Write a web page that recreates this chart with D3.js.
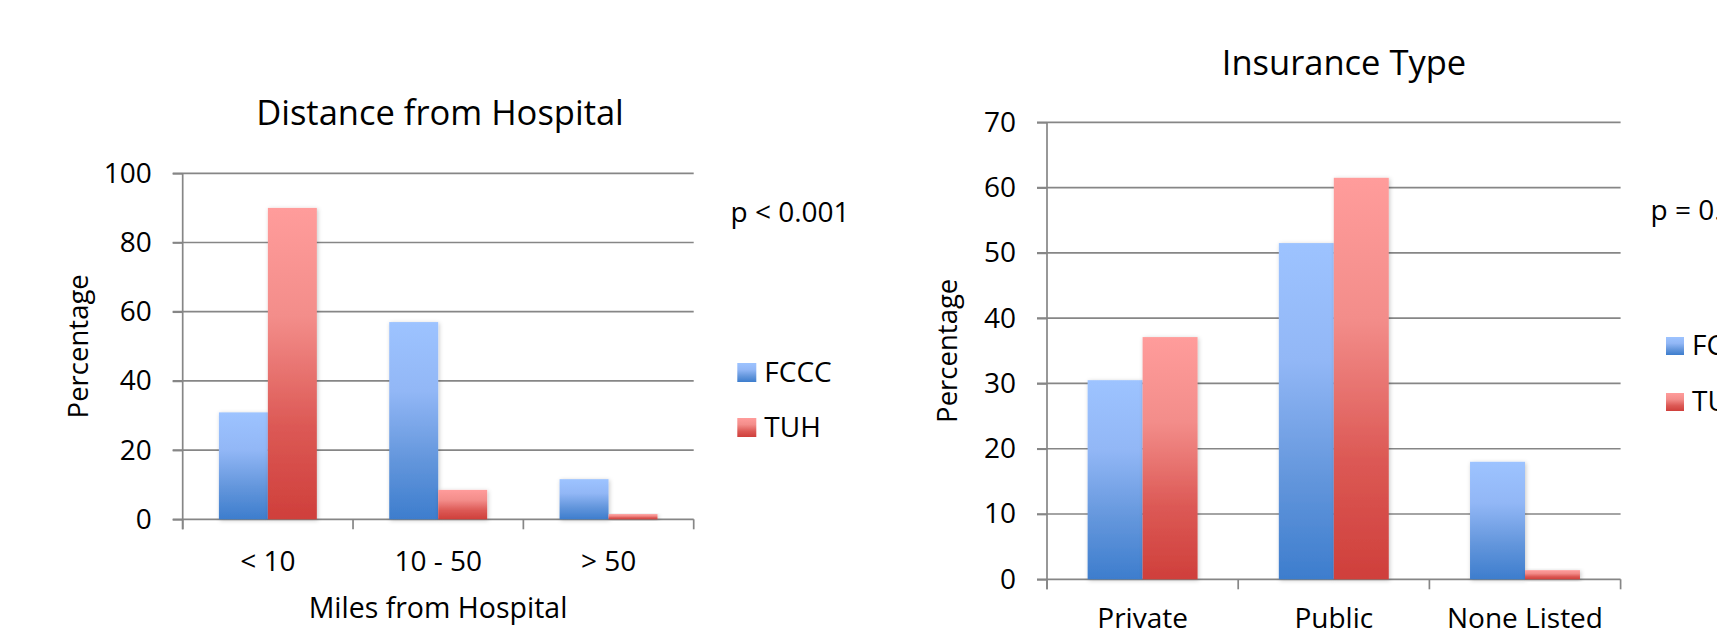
<!DOCTYPE html>
<html>
<head>
<meta charset="utf-8">
<script src="https://cdn.jsdelivr.net/npm/d3@7"></script>
<style>
  html, body { margin: 0; padding: 0; background: #fff; overflow: hidden; }
  svg { display: block; }
  text { font-family: "Open Sans", "Noto Sans", sans-serif; fill: #000; }
</style>
</head>
<body>
<svg id="chart" width="1717" height="629"></svg>
<script>
// ---- data ----
const seriesNames = ["FCCC", "TUH"];

const distanceCategories = ["< 10", "10 - 50", "> 50"];
const distanceFCCC = [30.9, 57.0, 11.6];
const distanceTUH = [90.0, 8.5, 1.5];
const distanceTicks = [0, 20, 40, 60, 80, 100];

const insuranceCategories = ["Private", "Public", "None Listed"];
const insuranceFCCC = [30.5, 51.5, 18.0];
const insuranceTUH = [37.1, 61.5, 1.4];
const insuranceTicks = [0, 10, 20, 30, 40, 50, 60, 70];

const svg = d3.select("#chart");
const defs = svg.append("defs");

// vertical gradients for the two series
const gradStops = {
  FCCC: [[0, "#9dc3ff"], [0.35, "#92b7f6"], [0.7, "#6396dc"], [1, "#3d7dcd"]],
  TUH:  [[0, "#ff9c9b"], [0.35, "#f38d8a"], [0.7, "#dc5955"], [1, "#cf3f3b"]]
};
Object.entries(gradStops).forEach(([name, stops]) => {
  const g = defs.append("linearGradient")
    .attr("id", "grad-" + name)
    .attr("x1", 0).attr("y1", 0).attr("x2", 0).attr("y2", 1);
  stops.forEach(([o, c]) => g.append("stop").attr("offset", o).attr("stop-color", c));
});

const shadow = defs.append("filter").attr("id", "barShadow")
  .attr("x", "-20%").attr("y", "-20%").attr("width", "140%").attr("height", "140%");
shadow.append("feDropShadow")
  .attr("dx", 1).attr("dy", 1).attr("stdDeviation", 2)
  .attr("flood-color", "#000").attr("flood-opacity", 0.22);

const gridColor = "#868686";
const labelSize = 28;

function drawChart(cfg) {
  const g = svg.append("g");
  const { left, right, top, bottom } = cfg.plot;

  const y = d3.scaleLinear().domain([0, cfg.max]).range([bottom, top]);
  const x = d3.scaleBand().domain(cfg.categories).range([left, right])
    .paddingInner(0.425).paddingOuter(0.2125);
  const xs = d3.scaleBand().domain(seriesNames).range([0, x.bandwidth()]);

  // horizontal gridlines (extending through the y ticks)
  g.append("g").selectAll("line").data(cfg.ticks).join("line")
    .attr("x1", left - 10).attr("x2", right)
    .attr("y1", d => y(d)).attr("y2", d => y(d))
    .attr("stroke", gridColor).attr("stroke-width", 1.7);

  // y axis with labels
  const yAxis = g.append("g")
    .attr("transform", `translate(${left},0)`)
    .call(d3.axisLeft(y).tickValues(cfg.ticks).tickSize(10).tickPadding(21));
  yAxis.select(".domain").remove();
  yAxis.selectAll(".tick line").attr("stroke", gridColor).attr("stroke-width", 1.7);
  yAxis.selectAll(".tick text")
    .style("font-family", '"Open Sans", sans-serif')
    .attr("font-size", labelSize).attr("fill", "#000");

  g.append("line")
    .attr("x1", left).attr("x2", left)
    .attr("y1", top).attr("y2", bottom + 10)
    .attr("stroke", gridColor).attr("stroke-width", 1.7);

  // category boundary ticks
  const step = x.step();
  const bounds = d3.range(cfg.categories.length + 1).map(i => left + i * step);
  g.append("g").selectAll("line").data(bounds).join("line")
    .attr("x1", d => d).attr("x2", d => d)
    .attr("y1", bottom).attr("y2", bottom + 10)
    .attr("stroke", gridColor).attr("stroke-width", 1.7);

  // bars
  const rows = cfg.categories.map((c, i) => ({
    cat: c,
    vals: [{ s: "FCCC", v: cfg.fccc[i] }, { s: "TUH", v: cfg.tuh[i] }]
  }));
  g.append("g").selectAll("g").data(rows).join("g")
    .attr("transform", d => `translate(${x(d.cat)},0)`)
    .selectAll("rect").data(d => d.vals).join("rect")
    .attr("x", d => xs(d.s))
    .attr("width", xs.bandwidth())
    .attr("y", d => y(d.v))
    .attr("height", d => y(0) - y(d.v))
    .attr("fill", d => `url(#grad-${d.s})`)
    .attr("filter", "url(#barShadow)");

  // category labels
  const xAxis = g.append("g")
    .attr("transform", `translate(0,${bottom})`)
    .call(d3.axisBottom(x).tickSize(0).tickPadding(0));
  xAxis.select(".domain").remove();
  xAxis.selectAll(".tick text")
    .style("font-family", '"Open Sans", sans-serif')
    .attr("font-size", labelSize).attr("fill", "#000")
    .attr("dy", null)
    .attr("y", cfg.catLabelY - bottom);

  // titles
  g.append("text")
    .attr("x", cfg.titleX).attr("y", cfg.titleY)
    .attr("text-anchor", "middle").attr("font-size", 34.5)
    .text(cfg.title);

  g.append("text")
    .attr("transform", `translate(${cfg.yTitleX},${(top + bottom) / 2}) rotate(-90)`)
    .attr("text-anchor", "middle").attr("font-size", 27.5)
    .text("Percentage");

  if (cfg.xTitle) {
    g.append("text")
      .attr("x", cfg.xTitleX).attr("y", cfg.xTitleY)
      .attr("text-anchor", "middle").attr("font-size", 28.5)
      .text(cfg.xTitle);
  }

  // p-value note
  g.append("text")
    .attr("x", cfg.pX).attr("y", cfg.pY)
    .attr("font-size", labelSize)
    .text(cfg.pText);

  // legend
  const lg = g.append("g").selectAll("g").data(seriesNames).join("g")
    .attr("transform", (d, i) => `translate(${cfg.legendX},${cfg.legendY + i * cfg.legendGap})`);
  lg.append("rect")
    .attr("width", cfg.swatch).attr("height", cfg.swatch)
    .attr("fill", d => `url(#grad-${d})`);
  lg.append("text")
    .attr("x", cfg.swatch + 8).attr("y", cfg.swatch)
    .attr("font-size", labelSize)
    .text(d => d);
}

drawChart({
  title: "Distance from Hospital",
  categories: distanceCategories,
  fccc: distanceFCCC,
  tuh: distanceTUH,
  ticks: distanceTicks,
  max: 100,
  plot: { left: 182.7, right: 693.7, top: 173.3, bottom: 519.3 },
  titleX: 440, titleY: 125,
  yTitleX: 88,
  catLabelY: 571,
  xTitle: "Miles from Hospital", xTitleX: 438, xTitleY: 618,
  pText: "p < 0.001", pX: 730.5, pY: 221.5,
  legendX: 737.3, legendY: 363, legendGap: 55, swatch: 19
});

drawChart({
  title: "Insurance Type",
  categories: insuranceCategories,
  fccc: insuranceFCCC,
  tuh: insuranceTUH,
  ticks: insuranceTicks,
  max: 70,
  plot: { left: 1047, right: 1620.6, top: 122.3, bottom: 579.3 },
  titleX: 1344, titleY: 75,
  yTitleX: 957,
  catLabelY: 628.5,
  xTitle: null,
  pText: "p = 0.", pX: 1650.5, pY: 220,
  legendX: 1666, legendY: 337, legendGap: 56, swatch: 18
});
</script>
</body>
</html>
